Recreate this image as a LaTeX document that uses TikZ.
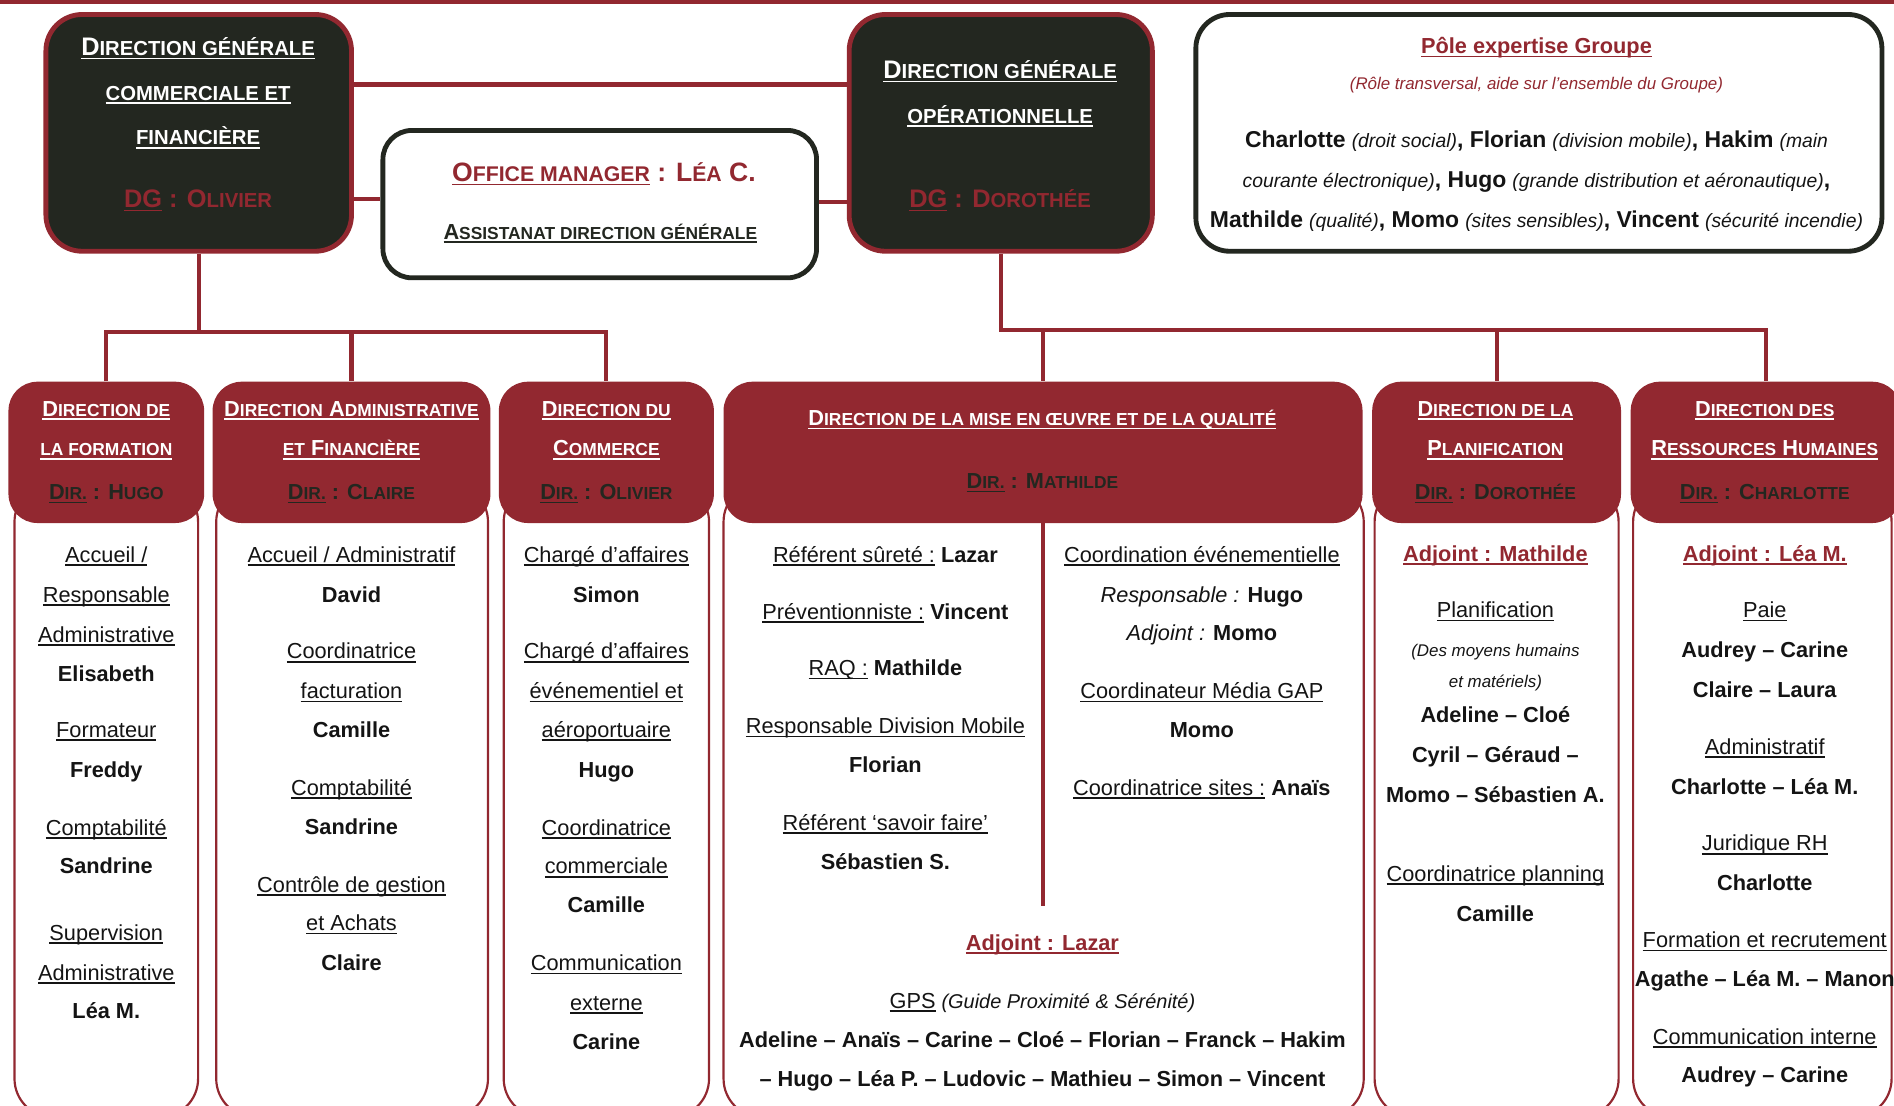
\documentclass[tikz,border=0pt]{standalone}
\usepackage{fontspec}
\setmainfont{Liberation Sans}
\definecolor{rd}{HTML}{922830}
\definecolor{dk}{HTML}{232720}
\definecolor{ink}{HTML}{141414}
\newsavebox\ulbox
\newcommand\uln[1]{\sbox\ulbox{#1}\rlap{\rule[-3pt]{\wd\ulbox}{1.3pt}}\usebox\ulbox}
\makeatletter
\newcommand\sm[1]{{\fontsize{\fpeval{0.8*\f@size}}{\fpeval{0.9*\f@size}}\selectfont #1}}
\makeatother
\newcommand\pn[1]{{\fontsize{19}{22}\selectfont\bfseries #1}}
\newcommand\pit[1]{{\fontsize{16}{19}\selectfont\itshape #1}}
\newcommand\rdb[1]{{\color{rd}\bfseries\uln{#1}}}
\newcommand\lines[3]{\foreach \yy/\lab [count=\ii] in {#3} {\node[t] (#1-\ii) at (#2,\yy+6.5) {\lab};}}
\newcommand\hlines[3]{\foreach \yy/\lab [count=\ii] in {#3} {\node[ht] (#1-\ii) at (#2,\yy+6.5) {\lab};}}
\begin{document}
\begin{tikzpicture}[x=1pt,y=-1pt,
  conn/.style={draw=rd, line width=3.5pt},
  dgbox/.style={draw=rd, fill=dk, line width=4pt, rounded corners=30pt, inner sep=0pt},
  wbox/.style={draw=dk, fill=white, line width=4pt, rounded corners=24pt, inner sep=0pt},
  hdr/.style={fill=rd, rounded corners=24pt, inner sep=0pt},
  bodybox/.style={draw=rd, fill=white, line width=1.8pt, rounded corners=32pt, inner sep=0pt},
  t/.style={anchor=base, inner sep=0pt, text=ink, font=\fontsize{18}{21}\selectfont},
  ht/.style={anchor=base, inner sep=0pt, text=white, font=\bfseries\fontsize{18}{21}\selectfont},
  dgt/.style={anchor=base, inner sep=0pt, text=white, font=\bfseries\fontsize{21}{24}\selectfont},
]
\useasboundingbox (0,0) rectangle (1568,915);
\fill[white] (0,0) rectangle (1568,915);
\fill[rd] (0,0) rectangle (1568,3.5);

% helper coordinates
\coordinate (yA) at (0,70);
\coordinate (yB) at (0,165);
\coordinate (yC) at (0,167);
\coordinate (busL) at (0,275);
\coordinate (busR) at (0,273);
\coordinate (divEnd) at (863.5,750);

% connectors (drawn first, boxes cover their ends)
\coordinate (dg1s) at (164.5,208);
\coordinate (dg2s) at (828.5,208);

% top boxes (shapes only)
\node[dgbox, minimum width=253pt, minimum height=196pt] (dg1) at (164.5,110) {};
\node[wbox, minimum width=359pt, minimum height=122pt] (om) at (496.5,169) {};
\node[dgbox, minimum width=251pt, minimum height=196pt] (dg2) at (828.5,110) {};
\node[wbox, minimum width=568pt, minimum height=196pt, rounded corners=28pt] (pole) at (1274,110) {};

% bodies
\node[bodybox, minimum width=152pt, minimum height=525pt] (b1) at (88,662.5) {};
\node[bodybox, minimum width=225pt, minimum height=525pt] (b2) at (291.5,662.5) {};
\node[bodybox, minimum width=170pt, minimum height=525pt] (b3) at (502,662.5) {};
\node[bodybox, minimum width=530pt, minimum height=525pt] (b4) at (864,662.5) {};
\node[bodybox, minimum width=202pt, minimum height=525pt] (b5) at (1239,662.5) {};
\node[bodybox, minimum width=214pt, minimum height=525pt] (b6) at (1459,662.5) {};

% headers
\node[hdr, minimum width=162pt, minimum height=117pt] (h1) at (88,374.5) {};
\node[hdr, minimum width=230pt, minimum height=117pt] (h2) at (291,374.5) {};
\node[hdr, minimum width=178pt, minimum height=117pt] (h3) at (502,374.5) {};
\node[hdr, minimum width=529pt, minimum height=117pt] (h4) at (863.5,374.5) {};
\node[hdr, minimum width=206pt, minimum height=117pt] (h5) at (1239,374.5) {};
\node[hdr, minimum width=224pt, minimum height=117pt] (h6) at (1462,374.5) {};

% connectors
\draw[conn] (dg1.east |- yA) -- (dg2.west |- yA);
\draw[conn] (dg1.east |- yB) -- (om.west |- yB);
\draw[conn] (om.east |- yC) -- (dg2.west |- yC);
\draw[conn] (dg1.south) -- (dg1.south |- busL);
\draw[conn] (h1.north) |- (h3.north |- busL) -- (h3.north);
\draw[conn] (h2.north |- busL) -- (h2.north);
\draw[conn] (dg2.south) |- (h6.north |- busR) -- (h6.north);
\draw[conn] (h4.north |- busR) -- (h4.north);
\draw[conn] (h5.north |- busR) -- (h5.north);
\draw[conn] (h4.south) -- (divEnd);

% top box texts
\node[dgt] (dg1-1) at (164,39+7) {\uln{D\sm{IRECTION GÉNÉRALE}}};
\node[dgt] (dg1-2) at (164,77+6) {\uln{\sm{COMMERCIALE ET}}};
\node[dgt] (dg1-3) at (164,114+6) {\uln{\sm{FINANCIÈRE}}};
\node[dgt, text=rd] (dg1-4) at (164,165+7) {\uln{DG} : O\sm{LIVIER}};
\node[dgt] (dg2-1) at (828,58+7) {\uln{D\sm{IRECTION GÉNÉRALE}}};
\node[dgt] (dg2-2) at (828,96+6) {\uln{\sm{OPÉRATIONNELLE}}};
\node[dgt, text=rd] (dg2-3) at (828,165+7) {\uln{DG} : D\sm{OROTHÉE}};
\node[dgt, text=rd, font=\bfseries\fontsize{22}{25}\selectfont] (om-1) at (500,143+7.5) {\uln{O\sm{FFICE MANAGER}} : L\sm{ÉA} C.};
\node[ht, text=dk] (om-2) at (497,192+6) {\uln{A\sm{SSISTANAT DIRECTION GÉNÉRALE}}};

\node[t, text=rd, font=\bfseries\fontsize{18}{21}\selectfont] (pole-1) at (1272,38+6.5) {\uln{Pôle expertise Groupe}};
\node[t, text=rd, font=\itshape\fontsize{14}{16}\selectfont] (pole-2) at (1272,69+5) {(Rôle transversal, aide sur l’ensemble du Groupe)};
\node[t] (pole-3) at (1272,115+7) {\pn{Charlotte} \pit{(droit social)}\pn{, Florian} \pit{(division mobile)}\pn{, Hakim} \pit{(main}};
\node[t] (pole-4) at (1272,148+7) {\pit{courante électronique)}\pn{, Hugo} \pit{(grande distribution et aéronautique)}\pn{,}};
\node[t] (pole-5) at (1272,181+7) {\pn{Mathilde} \pit{(qualité)}\pn{, Momo} \pit{(sites sensibles)}\pn{, Vincent} \pit{(sécurité incendie)}};

% header texts
\hlines{h1t}{88}{338/{\uln{D\sm{IRECTION DE}}}, 371/{\uln{\sm{LA FORMATION}}}, 407/{\color{dk}\uln{D\sm{IR.}} : H\sm{UGO}}}
\hlines{h2t}{291}{338/{\uln{D\sm{IRECTION} A\sm{DMINISTRATIVE}}}, 371/{\uln{\sm{ET} F\sm{INANCIÈRE}}}, 407/{\color{dk}\uln{D\sm{IR.}} : C\sm{LAIRE}}}
\hlines{h3t}{502}{338/{\uln{D\sm{IRECTION DU}}}, 371/{\uln{C\sm{OMMERCE}}}, 407/{\color{dk}\uln{D\sm{IR.}} : O\sm{LIVIER}}}
\hlines{h4t}{863}{346/{\uln{D\sm{IRECTION DE LA MISE EN ŒUVRE ET DE LA QUALITÉ}}}, 398/{\color{dk}\uln{D\sm{IR.}} : M\sm{ATHILDE}}}
\hlines{h5t}{1238}{338/{\uln{D\sm{IRECTION DE LA}}}, 371/{\uln{P\sm{LANIFICATION}}}, 407/{\color{dk}\uln{D\sm{IR.}} : D\sm{OROTHÉE}}}
\hlines{h6t}{1461}{338/{\uln{D\sm{IRECTION DES}}}, 371/{\uln{R\sm{ESSOURCES} H\sm{UMAINES}}}, 407/{\color{dk}\uln{D\sm{IR.}} : C\sm{HARLOTTE}}}

% body texts
\lines{c1}{88}{459/{\uln{Accueil /}}, 492/{\uln{Responsable}}, 525/{\uln{Administrative}}, 558/{\textbf{Elisabeth}},
  604/{\uln{Formateur}}, 637/{\textbf{Freddy}}, 685/{\uln{Comptabilité}}, 717/{\textbf{Sandrine}},
  772/{\uln{Supervision}}, 805/{\uln{Administrative}}, 837/{\textbf{Léa M.}}}
\lines{c2}{291}{459/{\uln{Accueil / Administratif}}, 492/{\textbf{David}}, 539/{\uln{Coordinatrice}}, 572/{\uln{facturation}},
  604/{\textbf{Camille}}, 652/{\uln{Comptabilité}}, 684/{\textbf{Sandrine}}, 732/{\uln{Contrôle de gestion}},
  764/{\uln{et Achats}}, 797/{\textbf{Claire}}}
\lines{c3}{502}{459/{\uln{Chargé d’affaires}}, 492/{\textbf{Simon}}, 539/{\uln{Chargé d’affaires}}, 572/{\uln{événementiel et}},
  604/{\uln{aéroportuaire}}, 637/{\textbf{Hugo}}, 685/{\uln{Coordinatrice}}, 717/{\uln{commerciale}},
  749/{\textbf{Camille}}, 797/{\uln{Communication}}, 830/{\uln{externe}}, 862/{\textbf{Carine}}}
\lines{c4l}{733}{459/{\uln{Référent sûreté :} \textbf{Lazar}}, 506/{\uln{Préventionniste :} \textbf{Vincent}},
  553/{\uln{RAQ :} \textbf{Mathilde}}, 601/{\uln{Responsable Division Mobile}}, 633/{\textbf{Florian}},
  681/{\uln{Référent ‘savoir faire’}}, 713/{\textbf{Sébastien S.}}}
\lines{c4r}{995}{459/{\uln{Coordination événementielle}}, 492/{\textit{Responsable :} \textbf{Hugo}},
  524/{\textit{Adjoint :} \textbf{Momo}}, 572/{\uln{Coordinateur Média GAP}}, 604/{\textbf{Momo}},
  652/{\uln{Coordinatrice sites :} \textbf{Anaïs}}}
\lines{c4b}{863}{780/{\rdb{Adjoint : Lazar}}, 828/{\uln{GPS} {\fontsize{16.5}{19}\selectfont\itshape (Guide Proximité \& Sérénité)}},
  861/{\textbf{Adeline – Anaïs – Carine – Cloé – Florian – Franck – Hakim}},
  893/{\textbf{– Hugo – Léa P. – Ludovic – Mathieu – Simon – Vincent}}}
\lines{c5}{1238}{458/{\rdb{Adjoint : Mathilde}}, 505/{\uln{Planification}},
  537/{{\fontsize{14}{16}\selectfont\itshape (Des moyens humains}}, 563/{{\fontsize{14}{16}\selectfont\itshape et matériels)}},
  592/{\textbf{Adeline – Cloé}}, 625/{\textbf{Cyril – Géraud –}}, 658/{\textbf{Momo – Sébastien A.}},
  723/{\uln{Coordinatrice planning}}, 756/{\textbf{Camille}}}
\lines{c6}{1461}{458/{\rdb{Adjoint : Léa M.}}, 505/{\uln{Paie}}, 538/{\textbf{Audrey – Carine}}, 571/{\textbf{Claire – Laura}},
  618/{\uln{Administratif}}, 651/{\textbf{Charlotte – Léa M.}}, 698/{\uln{Juridique RH}}, 731/{\textbf{Charlotte}},
  778/{\uln{Formation et recrutement}}, 810/{\textbf{Agathe – Léa M. – Manon}},
  858/{\uln{Communication interne}}, 890/{\textbf{Audrey – Carine}}}
\end{tikzpicture}
\end{document}
